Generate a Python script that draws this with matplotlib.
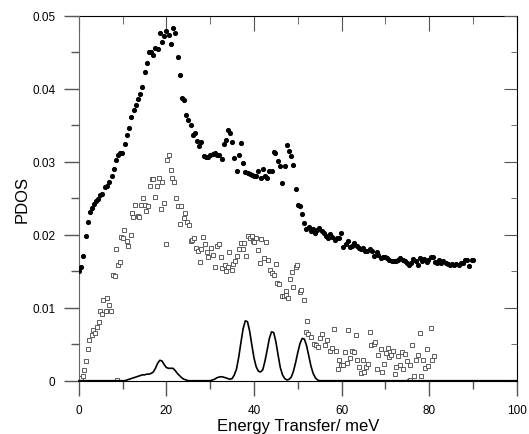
import matplotlib
matplotlib.use("Agg")
import matplotlib.pyplot as plt
import numpy as np

plt.rcParams['font.family'] = ['Liberation Sans', 'DejaVu Sans']

# PDOS, filled dots (energy in meV, value)
dots_x = [0.0, 0.46, 1.0, 1.6, 2.05, 2.5, 3.0, 3.5, 3.95, 4.4, 4.9, 5.3, 6.0, 6.5, 7.0,
          7.5, 8.0, 8.5, 9.05, 9.5, 9.95, 10.5, 10.95, 11.5, 12.0, 12.5, 13.0, 13.5, 14.0,
          14.5, 15.0, 15.5, 16.0, 16.5, 17.0, 17.5, 18.0, 18.5, 19.0, 19.5, 20.0, 20.5,
          21.05, 21.5, 22.0, 22.6, 23.0, 23.55, 24.1, 24.55, 25.0, 25.5, 26.0, 26.5, 27.0,
          27.5, 27.95, 28.5, 29.0, 29.6, 30.0, 30.6, 31.0, 31.55, 32.1, 32.6, 33.1, 33.5,
          34.0, 34.6, 35.0, 35.5, 36.0, 36.5, 37.0, 37.5, 38.0, 38.6, 39.0, 39.5, 40.0,
          40.5, 41.0, 41.5, 42.0, 42.6, 43.0, 43.5, 44.0, 44.5, 44.9, 45.5, 46.0, 46.5,
          47.0, 47.5, 48.05, 48.5, 49.0, 49.5, 50.0, 50.4, 50.9, 51.4, 51.9, 52.5, 53.0,
          53.4, 53.9, 54.4, 54.9, 55.5, 55.9, 56.4, 56.9, 57.4, 57.9, 58.4, 58.9, 59.4,
          59.9, 60.4, 60.9, 61.4, 62.0, 62.4, 62.9, 63.4, 63.9, 64.4, 64.9, 65.4, 65.9,
          66.4, 66.9, 67.4, 68.0, 68.4, 68.9, 69.4, 69.9, 70.4, 70.9, 71.4, 71.9, 72.4,
          72.9, 73.4, 73.9, 74.4, 74.9, 75.4, 75.9, 76.4, 76.9, 77.4, 77.8, 78.3, 78.8,
          79.4, 79.8, 80.3, 80.8, 81.3, 81.8, 82.2, 82.8, 83.2, 83.8, 84.2, 84.8, 85.2,
          85.7, 86.2, 86.7, 87.2, 87.7, 88.2, 88.7, 89.1, 89.7, 90.1]
dots_y = [0.0151, 0.01555, 0.01715, 0.0199, 0.0217, 0.0231, 0.0237, 0.0242, 0.0247, 0.0249,
          0.0254, 0.0256, 0.0266, 0.0267, 0.0272, 0.0280, 0.0290, 0.0303, 0.0310, 0.0312,
          0.0312, 0.0324, 0.0337, 0.0347, 0.0362, 0.0371, 0.0378, 0.0386, 0.0393, 0.0403,
          0.0423, 0.0436, 0.0450, 0.0450, 0.0447, 0.0456, 0.0455, 0.0476, 0.0464, 0.0472,
          0.0480, 0.0474, 0.0462, 0.0483, 0.0477, 0.0444, 0.0419, 0.0387, 0.0385, 0.0364,
          0.0357, 0.0350, 0.0337, 0.0339, 0.0328, 0.0322, 0.0327, 0.0308, 0.0307, 0.0306,
          0.0310, 0.0311, 0.0312, 0.0310, 0.0310, 0.0304, 0.0324, 0.0330, 0.0344, 0.0339,
          0.0327, 0.0305, 0.0288, 0.0310, 0.0326, 0.0298, 0.0286, 0.0285, 0.0284, 0.0282,
          0.0280, 0.0280, 0.0287, 0.0278, 0.0290, 0.0281, 0.0278, 0.0287, 0.0287, 0.0313,
          0.0312, 0.0301, 0.0295, 0.0271, 0.0294, 0.0323, 0.0315, 0.0308, 0.0296, 0.0263,
          0.0241, 0.0240, 0.0228, 0.0216, 0.0208, 0.0211, 0.0205, 0.0208, 0.0202, 0.0207,
          0.0209, 0.0205, 0.0202, 0.0199, 0.0196, 0.0201, 0.0197, 0.0193, 0.0196, 0.0195,
          0.0203, 0.0183, 0.0188, 0.0191, 0.0183, 0.0185, 0.0189, 0.0185, 0.0182, 0.0181,
          0.0182, 0.0178, 0.0178, 0.0180, 0.0178, 0.0171, 0.0177, 0.0173, 0.0168, 0.0170,
          0.0170, 0.0168, 0.0166, 0.0164, 0.0164, 0.0164, 0.0166, 0.0168, 0.0166, 0.0164,
          0.0162, 0.0159, 0.0161, 0.0167, 0.0164, 0.0159, 0.0168, 0.0164, 0.0167, 0.0163,
          0.0165, 0.0169, 0.0169, 0.0163, 0.0161, 0.0165, 0.0161, 0.0164, 0.0161, 0.0160,
          0.0159, 0.0160, 0.0159, 0.0160, 0.0159, 0.0161, 0.0162, 0.0165, 0.0165, 0.0157,
          0.0165, 0.0165]

# open squares
sq_x = [0.0, 0.4, 0.9, 1.2, 1.67, 2.05, 2.4, 2.9, 3.3, 3.65, 4.1, 4.5, 4.9, 5.2, 5.6, 6.1,
        6.4, 6.9, 7.3, 7.7, 8.2, 8.5, 8.8, 8.9, 9.35, 9.7, 10.1, 10.3, 10.9, 11.3, 11.8,
        12.15, 12.45, 12.9, 13.4, 13.8, 14.1, 14.6, 15.05, 15.4, 15.7, 16.2, 16.6, 17.0,
        17.4, 17.8, 18.2, 18.7, 19.1, 19.45, 19.8, 20.2, 20.7, 21.1, 21.35, 21.8, 22.3,
        22.7, 23.0, 23.4, 23.9, 24.3, 24.7, 25.1, 25.5, 25.9, 26.3, 26.7, 27.1, 27.6, 28.0,
        28.35, 28.7, 29.3, 29.6, 30.1, 30.7, 31.2, 31.6, 32.1, 32.4, 32.8, 33.3, 33.7,
        34.05, 34.4, 34.9, 35.3, 35.65, 36.0, 36.5, 36.95, 37.4, 37.8, 38.1, 38.6, 39.0,
        39.45, 39.75, 40.1, 40.5, 41.0, 41.3, 41.7, 42.2, 42.7, 43.3, 43.7, 44.2, 44.5,
        45.0, 45.3, 45.8, 46.3, 46.8, 47.3, 47.4, 47.7, 48.1, 48.6, 49.0, 49.5, 49.85,
        50.4, 50.8, 51.4, 51.9, 52.1, 52.3, 53.05, 53.7, 54.2, 54.6, 55.1, 55.6, 56.2,
        56.7, 57.3, 57.8, 58.3, 58.8, 59.1, 59.5, 59.9, 60.3, 60.7, 61.2, 61.5, 61.9,
        62.3, 62.9, 63.2, 63.5, 64.0, 64.4, 64.8, 65.2, 65.6, 66.1, 66.4, 66.8, 67.3,
        67.7, 68.0, 68.4, 68.9, 69.2, 69.7, 70.1, 70.5, 70.9, 71.3, 71.7, 72.1, 72.4,
        72.9, 73.3, 73.7, 74.0, 74.5, 74.95, 75.3, 75.6, 75.7, 76.1, 76.5, 77.0, 77.4,
        77.8, 78.2, 78.6, 79.1, 79.4, 79.8, 80.3, 80.65, 81.0]
sq_y = [0.0001, 0.0004, 0.0006, 0.0014, 0.0027, 0.0043, 0.0056, 0.0063, 0.0070, 0.0065,
        0.0073, 0.0080, 0.0095, 0.0092, 0.0110, 0.0095, 0.0113, 0.0104, 0.0095, 0.0145,
        0.0143, 0.0180, 0.0001, 0.0158, 0.0163, 0.0197, 0.0195, 0.0207, 0.0192, 0.0184,
        0.0200, 0.0230, 0.0225, 0.0241, 0.0226, 0.0224, 0.0241, 0.0251, 0.0241, 0.0232,
        0.0240, 0.0267, 0.0276, 0.0276, 0.0252, 0.0267, 0.0278, 0.0236, 0.0273, 0.0244,
        0.0188, 0.0302, 0.0310, 0.0289, 0.0278, 0.0273, 0.0251, 0.0240, 0.0215, 0.0240,
        0.0223, 0.0230, 0.0218, 0.0213, 0.0191, 0.0193, 0.0196, 0.0182, 0.0178, 0.0163,
        0.0180, 0.0197, 0.0188, 0.0176, 0.0169, 0.0182, 0.0173, 0.0156, 0.0185, 0.0187,
        0.0170, 0.0154, 0.0158, 0.0151, 0.0156, 0.0176, 0.0152, 0.0160, 0.0164, 0.0171,
        0.0180, 0.0189, 0.0181, 0.0189, 0.0171, 0.0199, 0.0195, 0.0198, 0.0192, 0.0190,
        0.0195, 0.0179, 0.0162, 0.0194, 0.0168, 0.0190, 0.0165, 0.0152, 0.0148, 0.0145,
        0.0160, 0.0134, 0.0133, 0.0116, 0.0116, 0.0117, 0.0123, 0.0114, 0.0140, 0.0149,
        0.0129, 0.0156, 0.0159, 0.0121, 0.0124, 0.0111, 0.0067, 0.0082, 0.0064, 0.0060,
        0.0050, 0.0049, 0.0046, 0.0059, 0.0064, 0.0049, 0.0056, 0.0041, 0.0045, 0.0071,
        0.0041, 0.0016, 0.0028, 0.0022, 0.0022, 0.0040, 0.0024, 0.0069, 0.0031, 0.0041,
        0.0040, 0.0063, 0.0028, 0.0019, 0.0010, 0.0029, 0.0012, 0.0019, 0.0023, 0.0067,
        0.0049, 0.0051, 0.0053, 0.0016, 0.0035, 0.0043, 0.0012, 0.0023, 0.0038, 0.0045,
        0.0033, 0.0035, 0.0041, 0.0009, 0.0019, 0.0034, 0.0022, 0.0040, 0.0016, 0.0037,
        0.0027, 0.0000, 0.0001, 0.0022, 0.0049, 0.0007, 0.0029, 0.0035, 0.0065, 0.0006,
        0.0029, 0.0018, 0.0043, 0.0020, 0.0072, 0.0028, 0.0034]

# calculated curve, sampled every 0.5 meV from 10.5 to 55 (zero elsewhere)
curve_x = np.arange(10.5, 55.01, 0.5)
curve_y = [0.0, 0.0001, 0.0002, 0.0003, 0.0004, 0.0005, 0.0006, 0.0007, 0.0008, 0.0008,
           0.0009, 0.0009, 0.0010, 0.0012, 0.0017, 0.0024, 0.0028, 0.0027, 0.0022, 0.0018,
           0.0017, 0.0017, 0.0017, 0.0014, 0.0010, 0.0007, 0.0004, 0.0002, 0.0001,
           0, 0, 0, 0, 0, 0, 0, 0, 0, 0, 0,
           0.0001, 0.0002, 0.0004, 0.0005, 0.00055, 0.0005, 0.0004, 0.0003, 0.0002, 0.0003,
           0.0008, 0.0016, 0.0032, 0.0052, 0.0071, 0.0082, 0.0081, 0.0068, 0.0049, 0.0031,
           0.0019, 0.0013, 0.0012, 0.0015, 0.0027, 0.0042, 0.0058, 0.0067, 0.0066, 0.0053,
           0.0035, 0.0018, 0.0008, 0.0003, 0.0001, 0.0002, 0.0005, 0.0013, 0.0025, 0.0039,
           0.0051, 0.0058, 0.0057, 0.0048, 0.0034, 0.0020, 0.0010, 0.0004, 0.0001, 0.0]

fig = plt.figure(figsize=(5.29, 4.35), dpi=100)
ax = fig.add_axes([0.149, 0.1225, 0.828, 0.8385])

cx = np.r_[0, curve_x, 100]
cy = np.r_[0, curve_y, 0]
ax.plot(cx, cy, color='black', lw=1.2, zorder=3, clip_on=False)
ax.plot(sq_x, sq_y, linestyle='none', marker='s', ms=3.0, mfc='white', mec='#444444',
        mew=0.6, zorder=2)
ax.plot(dots_x, dots_y, linestyle='none', marker='o', ms=2.7, color='black', zorder=4)

ax.set_xlim(0, 100)
ax.set_ylim(0, 0.05)
ax.set_xticks([0, 20, 40, 60, 80, 100])
ax.set_xticks([10, 30, 50, 70, 90], minor=True)
ax.set_yticks([0, 0.01, 0.02, 0.03, 0.04, 0.05])
ax.set_yticklabels(['0', '0.01', '0.02', '0.03', '0.04', '0.05'])
ax.set_yticks([0.005, 0.015, 0.025, 0.035, 0.045], minor=True)

ax.tick_params(axis='both', which='major', length=10.5, width=1, color='#555555',
               labelsize=8.5, direction='out', pad=6.5)
ax.tick_params(axis='both', which='minor', length=5.8, width=1, color='#555555',
               direction='out')

# inward ticks on the top and right sides
sx = ax.secondary_xaxis('top')
sx.set_xticks([0, 20, 40, 60, 80, 100])
sx.set_xticks([10, 30, 50, 70, 90], minor=True)
sx.tick_params(which='major', direction='in', length=10.8, color='#555555', labeltop=False)
sx.tick_params(which='minor', direction='in', length=5.5, color='#555555')
sy = ax.secondary_yaxis('right')
sy.set_yticks([0, 0.01, 0.02, 0.03, 0.04, 0.05])
sy.set_yticks([0.005, 0.015, 0.025, 0.035, 0.045], minor=True)
sy.tick_params(which='major', direction='in', length=9.5, color='#555555', labelright=False)
sy.tick_params(which='minor', direction='in', length=4.5, color='#555555')
for s in ['top', 'right']:
    ax.spines[s].set_visible(False)
sx.spines['top'].set_color('black')
sy.spines['right'].set_color('black')
ax.spines['left'].set_color('#666666')

ax.set_ylabel('PDOS', fontsize=12, labelpad=2)
ax.set_xlabel('Energy Transfer/ meV', fontsize=12, labelpad=1)

fig.savefig('out.png', dpi=100)
